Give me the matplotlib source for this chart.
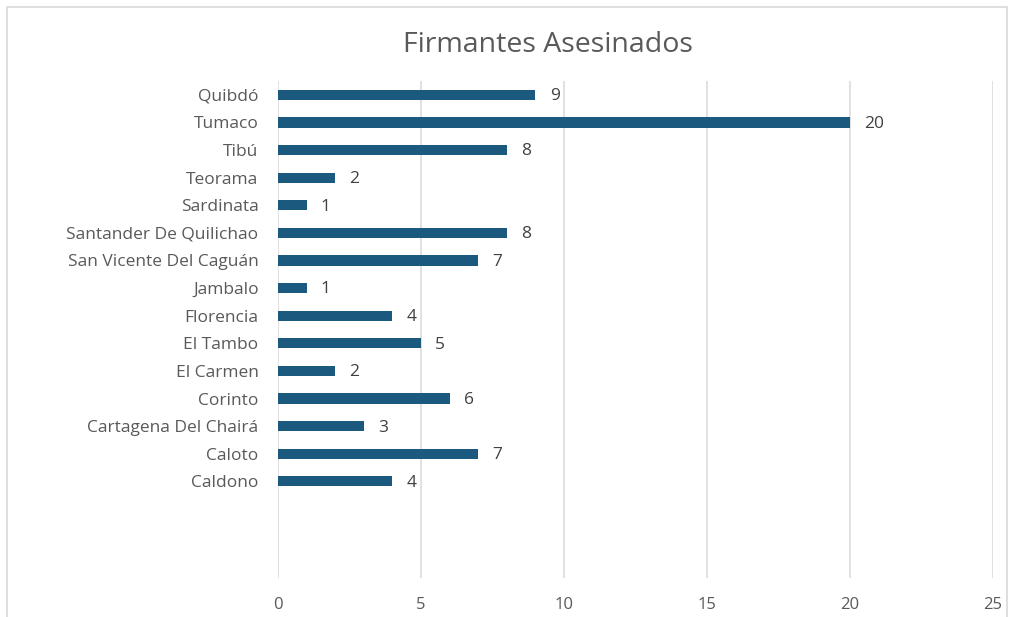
import matplotlib
matplotlib.use("Agg")
import matplotlib.pyplot as plt
from matplotlib.patches import Rectangle

categories = ["Quibdó", "Tumaco", "Tibú", "Teorama", "Sardinata",
              "Santander De Quilichao", "San Vicente Del Caguán", "Jambalo",
              "Florencia", "El Tambo", "El Carmen", "Corinto",
              "Cartagena Del Chairá", "Caloto", "Caldono"]
values = [9, 20, 8, 2, 1, 8, 7, 1, 4, 5, 2, 6, 3, 7, 4]
xticks = [0, 5, 10, 15, 20, 25]

W, H = 1011, 617
fig = plt.figure(figsize=(W / 100, H / 100), dpi=100)
plt.rcParams['font.family'] = ['Open Sans', 'DejaVu Sans']

# outer chart border
fig.patches.append(Rectangle((7 / W, -0.05), (1007 - 7) / W, 1.05 - 7 / H,
                             transform=fig.transFigure, fill=False,
                             edgecolor="#d9d9d9", linewidth=1.2))

left, right = 278 / W, 993 / W
top, bottom = 1 - 81 / H, 1 - 578 / H
ax = fig.add_axes([left, bottom, right - left, top - bottom])

color = "#1b5a7e"
ypos = list(range(len(categories)))
ax.barh(ypos, values, height=0.37, color=color, zorder=3)
for y, v in zip(ypos, values):
    ax.text(v + 0.5, y + 0.05, str(v), va="center", ha="left", fontsize=12.5,
            color="#404040")

ax.set_xlim(0, 25)
ax.set_ylim(17.5, -0.5)
ax.set_yticks(ypos)
ax.set_yticklabels(categories, fontsize=12.5, color="#595959")
ax.set_xticks(xticks)
ax.set_xticklabels([str(t) for t in xticks], fontsize=12, color="#595959")
ax.tick_params(axis="both", length=0)
ax.tick_params(axis="y", pad=14)
ax.tick_params(axis="x", pad=14)
for s in ax.spines.values():
    s.set_visible(False)
ax.grid(axis="x", color="#d9d9d9", linewidth=1.1, zorder=0)
ax.set_axisbelow(True)

fig.text(548 / W, 1 - 45 / H, "Firmantes Asesinados", ha="center",
         va="center", fontsize=20.5, color="#595959")

fig.savefig("out.png", dpi=100)
